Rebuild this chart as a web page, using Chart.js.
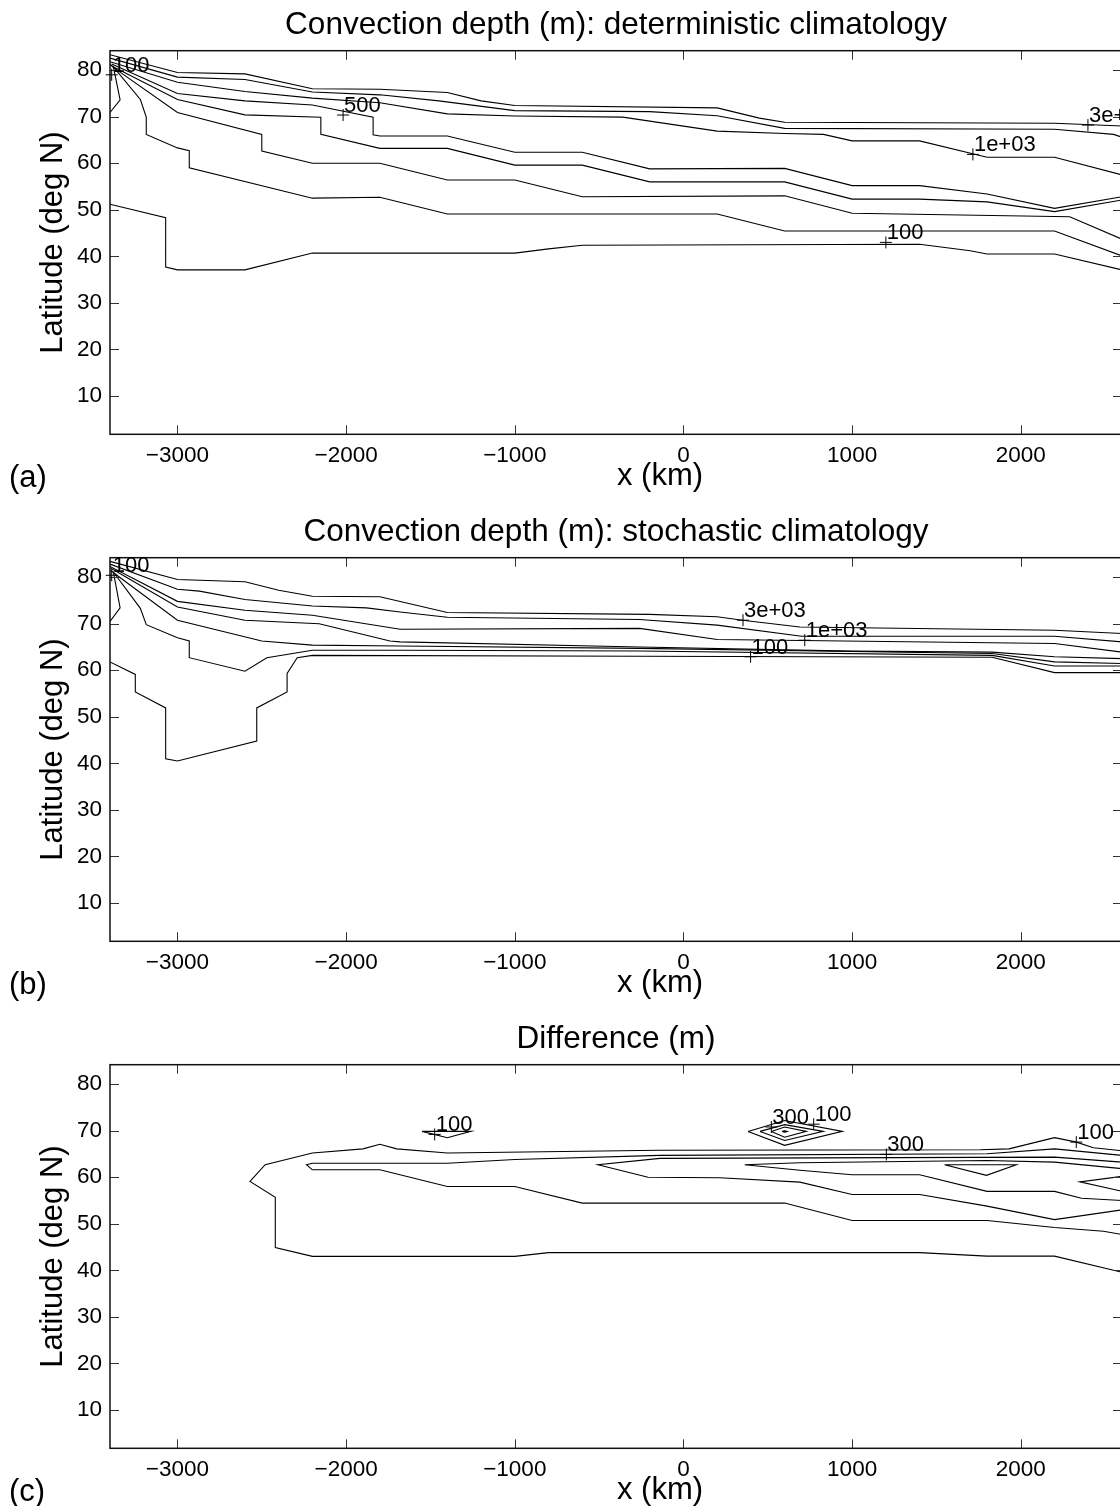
<!DOCTYPE html>
<html><head><meta charset="utf-8">
<script src="https://cdn.jsdelivr.net/npm/chart.js@4.4.1/dist/chart.umd.min.js"></script>
<style>
html,body{margin:0;padding:0;background:#fff;overflow:hidden;width:1120px;height:1506px;position:relative;}
canvas.panel{position:absolute;left:0;}
</style></head><body>
<canvas id="pa" class="panel" style="top:0px" width="1130" height="507"></canvas>
<canvas id="pb" class="panel" style="top:507px" width="1130" height="507"></canvas>
<canvas id="pc" class="panel" style="top:1014px" width="1130" height="507"></canvas>
<script>
// ---------- axes ----------
const xTicks = [-3000, -2000, -1000, 0, 1000, 2000];
const yTicks = [10, 20, 30, 40, 50, 60, 70, 80];
const xRange = [-3400, 2600];
const yRange = [1.77, 84.18];
const titles = ["Convection depth (m): deterministic climatology",
                "Convection depth (m): stochastic climatology",
                "Difference (m)"];
const letters = ["(a)", "(b)", "(c)"];
const xLabel = "x (km)";
const yLabel = "Latitude (deg N)";

// ---------- panel (a): deterministic climatology contours [x km, lat] ----------
const a_3000 = [[-3400,83.3],[-3000,79.5],[-2600,79.2],[-2200,76.0],[-1800,75.9],[-1400,75.2],[-1200,73.4],[-1000,72.4],[200,71.9],[450,69.7],[600,68.8],[2200,68.6],[2600,68.0]];
const a_2000 = [[-3400,82.6],[-3000,78.5],[-2600,78.0],[-2200,75.3],[-1800,74.7],[-1450,73.4],[-1000,71.3],[-200,71.1],[200,70.2],[600,67.5],[2200,67.3],[2550,66.2],[2600,65.6]];
const a_1000 = [[-3400,81.8],[-3000,77.4],[-2600,75.4],[-2200,74.0],[-1800,73.0],[-1400,70.6],[-1000,70.15],[-360,69.9],[200,66.9],[600,66.4],[830,66.2],[1000,64.8],[1400,64.8],[1800,61.3],[2200,61.3],[2600,57.5]];
const a_500 = [[-3390,81.3],[-3000,75.0],[-2600,73.4],[-2200,72.5],[-1840,69.9],[-1840,66.1],[-1800,65.85],[-1400,65.85],[-1000,62.35],[-600,62.35],[-200,58.8],[600,58.9],[1000,55.2],[1400,55.2],[1800,53.4],[2200,50.3],[2600,52.8]];
const a_400 = [[-3390,80.9],[-3000,73.7],[-2600,70.4],[-2150,69.9],[-2150,66.2],[-1800,63.2],[-1400,63.2],[-1000,59.6],[-600,59.6],[-200,56.0],[600,56.0],[1000,52.3],[1400,52.3],[1800,51.7],[2200,49.6],[2600,52.1]];
const a_300 = [[-3385,80.7],[-3000,70.9],[-2500,66.2],[-2500,62.6],[-2200,60.0],[-1800,60.0],[-1400,56.4],[-1000,56.4],[-600,52.8],[600,53.0],[1000,49.25],[2290,48.5],[2600,43.7]];
const a_200 = [[-3380,80.7],[-3220,73.7],[-3185,69.9],[-3185,66.2],[-3000,63.3],[-2930,62.7],[-2930,59.0],[-2200,52.5],[-1800,52.7],[-1400,49.1],[200,49.1],[600,45.45],[2200,45.45],[2600,40.1]];
const a_100 = [[-3400,51.2],[-3070,48.3],[-3070,37.7],[-3000,37.1],[-2600,37.1],[-2200,40.7],[-1000,40.7],[-800,41.6],[-600,42.4],[1400,42.6],[1700,41.2],[1800,40.5],[2200,40.5],[2600,37.1]];
const a_100n = [[-3400,81.2],[-3380,80.7],[-3340,73.6],[-3400,70.9]];
const labelsA = [[-3390,79.0,"100"],[-2018,70.36,"500"],[1716,61.9,"1e+03"],[2398,68.2,"3e+03"],[1200,43.0,"100"]];

// ---------- panel (b): stochastic climatology contours ----------
const b_3000 = [[-3400,83.4],[-3000,79.5],[-2600,79.0],[-2400,77.2],[-2200,75.9],[-1800,75.8],[-1400,72.4],[-200,72.0],[200,71.5],[350,70.75],[690,69.3],[2200,68.6],[2600,67.9]];
const b_2000 = [[-3400,82.8],[-3000,77.4],[-2870,77.0],[-2600,75.2],[-2200,73.8],[-1880,73.4],[-1680,72.5],[-1400,71.4],[-260,70.9],[200,69.7],[700,67.3],[2200,67.3],[2600,66.1]];
const b_1000 = [[-3400,82.3],[-3000,74.8],[-2600,72.9],[-2200,71.8],[-1680,68.8],[-260,69.0],[200,66.6],[2200,65.75],[2600,63.9]];
const b_500 = [[-3395,81.9],[-3000,73.6],[-2600,70.75],[-2160,70.0],[-1740,66.3],[-1680,66.1],[-260,65.0],[1000,64.1],[1830,63.9],[2200,62.9],[2600,62.5]];
const b_400 = [[-3385,81.1],[-3000,70.75],[-2500,66.3],[-2200,65.4],[-1680,65.2],[-260,64.7],[1830,63.6],[2200,61.8],[2600,61.45]];
const b_300 = [[-3380,81.1],[-3220,73.3],[-3185,69.8],[-3000,67.0],[-2930,66.3],[-2930,62.7],[-2600,59.8],[-2470,62.7],[-2200,64.3],[-1680,64.3],[-260,64.15],[1830,63.2],[2200,60.9],[2600,60.9]];
const b_100 = [[-3400,61.8],[-3250,59.1],[-3250,55.35],[-3070,51.9],[-3070,41.0],[-3000,40.5],[-2530,44.8],[-2530,51.9],[-2350,55.35],[-2350,59.3],[-2290,62.7],[-2200,63.2],[-260,63.0],[1830,62.8],[2200,59.5],[2600,59.5]];
const b_100n = [[-3400,81.5],[-3380,81.1],[-3340,73.4],[-3400,70.5]];
const labelsB = [[-3390,80.4,"100"],[353,70.75,"3e+03"],[719,66.45,"1e+03"],[398,62.9,"100"]];

// ---------- panel (c): difference contours ----------
const c_outer = [[2600,65.7],[2430,66.35],[2330,67.55],[2200,68.5],[1930,66.1],[1760,65.9],[-140,65.8],[-1400,65.2],[-1700,66.1],[-1800,67.1],[-1900,66.1],[-2200,65.2],[-2480,62.7],[-2570,59.1],[-2420,55.7],[-2420,44.9],[-2200,43.0],[-1000,43.0],[-800,43.8],[1400,43.8],[1800,43.06],[2200,43.06],[2600,39.6]];
const c_second = [[2600,64.7],[2200,66.1],[1800,65.06],[-140,64.7],[-1000,63.8],[-1400,63.0],[-2200,63.0],[-2235,62.7],[-2200,61.6],[-1800,61.6],[-1400,58.0],[-1000,58.0],[-600,54.45],[600,54.45],[1000,50.7],[1800,50.7],[2200,49.2],[2490,48.4],[2600,47.7]];
const c_third = [[2600,63.25],[2200,64.33],[-140,64.05],[-507,62.7],[-210,60.0],[215,59.9],[690,58.96],[1000,56.3],[1400,56.3],[1800,53.8],[2200,50.9],[2600,53.0]];
const c_fourth = [[2600,61.85],[2200,63.25],[1800,63.6],[690,63.1],[363,62.7],[690,61.5],[1000,60.55],[1400,60.55],[1800,56.96],[2200,56.96],[2360,55.5],[2600,55.0]];
const c_tri = [[1548,62.7],[1973,62.7],[1796,60.4],[1548,62.7]];
const c_sliver = [[2600,60.2],[2350,59.0],[2600,57.0]];
const c_spot = [[-1550,69.85],[-1260,69.85],[-1400,68.5],[-1550,69.85]];
const c_q100 = [[383,69.85],[600,72.2],[942,69.85],[600,66.85],[383,69.85]];
const c_q200 = [[454,69.85],[600,71.3],[829,69.85],[600,67.9],[454,69.85]];
const c_q300 = [[521,69.85],[600,70.8],[728,69.85],[600,68.6],[521,69.85]];
const c_q400 = [[585,69.85],[600,70.0],[615,69.85],[600,69.7],[585,69.85]];
const labelsC = [[-1475,69.2,"100"],[521,70.8,"300"],[772,71.4,"100"],[1203,64.9,"300"],[2329,67.55,"100"]];

const linesA = [a_3000, a_2000, a_1000, a_500, a_400, a_300, a_200, a_100, a_100n];
const linesB = [b_3000, b_2000, b_1000, b_500, b_400, b_300, b_100, b_100n];
const linesC = [c_outer, c_second, c_third, c_fourth, c_tri, c_sliver, c_spot, c_q100, c_q200, c_q300, c_q400];

// ---------- drawing ----------
const FONT = "'Liberation Sans', Arial, Helvetica, sans-serif";
const fmt = v => (v < 0 ? "\u2212" + Math.abs(v) : String(v));

function makePanel(id, idx, lines, labels) {
  const decor = {
    id: 'decor' + idx,
    afterDraw(chart) {
      const {ctx, chartArea: a, scales: {x, y}} = chart;
      ctx.save();
      // inward ticks on all four sides
      ctx.strokeStyle = '#333'; ctx.lineWidth = 1;
      ctx.beginPath();
      xTicks.forEach(v => {
        const px = Math.round(x.getPixelForValue(v)) + 0.5;
        ctx.moveTo(px, a.bottom); ctx.lineTo(px, a.bottom - 9);
        ctx.moveTo(px, a.top); ctx.lineTo(px, a.top + 9);
      });
      yTicks.forEach(v => {
        const py = Math.round(y.getPixelForValue(v)) + 0.5;
        ctx.moveTo(a.left, py); ctx.lineTo(a.left + 9, py);
        ctx.moveTo(a.right, py); ctx.lineTo(a.right - 9, py);
      });
      ctx.stroke();
      // box
      ctx.strokeStyle = '#111'; ctx.lineWidth = 1.5;
      ctx.strokeRect(a.left, a.top, a.right - a.left, a.bottom - a.top);
      // contour labels
      ctx.strokeStyle = '#000'; ctx.lineWidth = 1;
      ctx.fillStyle = '#000';
      ctx.font = '22px ' + FONT;
      ctx.textAlign = 'left'; ctx.textBaseline = 'alphabetic';
      labels.forEach(([lx, ly, t]) => {
        const px = x.getPixelForValue(lx), py = y.getPixelForValue(ly);
        ctx.beginPath();
        ctx.moveTo(px - 6, py); ctx.lineTo(px + 6, py);
        ctx.moveTo(px, py - 6); ctx.lineTo(px, py + 6);
        ctx.stroke();
        ctx.fillText(t, px + 1, py - 3);
      });
      // title and axis labels
      ctx.font = '31.5px ' + FONT;
      ctx.textAlign = 'center';
      ctx.fillText(titles[idx], (a.left + a.right) / 2, 34);
      ctx.font = '31px ' + FONT;
      ctx.fillText(xLabel, 660, 485);
      ctx.textAlign = 'left';
      ctx.fillText(letters[idx], 9, 487);
      ctx.save();
      ctx.translate(62, (a.top + a.bottom) / 2);
      ctx.rotate(-Math.PI / 2);
      ctx.textAlign = 'center';
      ctx.fillText(yLabel, 0, 0);
      ctx.restore();
      ctx.restore();
    }
  };
  return new Chart(document.getElementById(id), {
    type: 'scatter',
    data: {
      datasets: lines.map(l => ({
        data: l.map(p => ({x: p[0], y: p[1]})),
        showLine: true, borderColor: '#000', borderWidth: 1.1,
        pointRadius: 0, pointHoverRadius: 0, fill: false, tension: 0
      }))
    },
    options: {
      responsive: false, animation: false, devicePixelRatio: 1, events: [],
      layout: {padding: {top: 50.7, left: 0, right: 8, bottom: 0}},
      plugins: {legend: {display: false}, tooltip: {enabled: false}, title: {display: false}},
      scales: {
        x: {
          type: 'linear', min: xRange[0], max: xRange[1],
          grid: {display: false, drawTicks: false}, border: {display: false},
          afterBuildTicks: s => { s.ticks = xTicks.map(v => ({value: v})); },
          afterFit: s => { s.height = 72.7; },
          ticks: {font: {family: FONT, size: 22.5}, color: '#000', padding: 8, maxRotation: 0, minRotation: 0, autoSkip: false, callback: fmt}
        },
        y: {
          type: 'linear', min: yRange[0], max: yRange[1],
          grid: {display: false, drawTicks: false}, border: {display: false},
          afterBuildTicks: s => { s.ticks = yTicks.map(v => ({value: v})); },
          afterFit: s => { s.width = 110; },
          ticks: {font: {family: FONT, size: 22.5}, color: '#000', padding: 8, autoSkip: false, callback: fmt}
        }
      }
    },
    plugins: [decor]
  });
}

makePanel('pa', 0, linesA, labelsA);
makePanel('pb', 1, linesB, labelsB);
makePanel('pc', 2, linesC, labelsC);
</script>
</body></html>
